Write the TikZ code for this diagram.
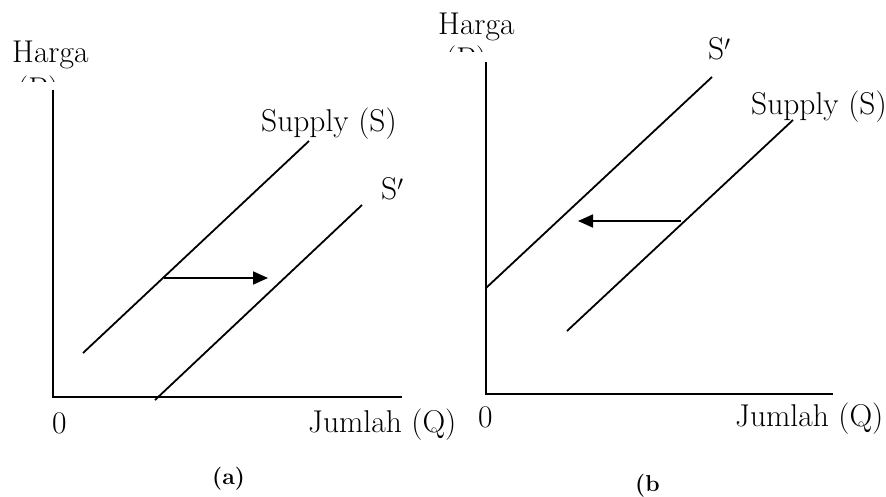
\documentclass[tikz,border=0pt]{standalone}
\usetikzlibrary{arrows.meta}
\begin{document}
\begin{tikzpicture}[x=1pt,y=-1pt,
  axis/.style={line width=2pt},
  curve/.style={line width=1.8pt},
  shift arrow/.style={line width=1.8pt,-{Triangle[length=15pt,width=13pt]}},
  lbl/.style={anchor=base west,inner sep=0pt,font=\fontsize{31.5}{36}\selectfont},
  panellbl/.style={anchor=base west,inner sep=0pt,font=\fontsize{23}{27}\selectfont\bfseries}]
\useasboundingbox (0,0) rectangle (886,497);
% ---------- panel (a) ----------
\coordinate (aO) at (53,397);
\coordinate (aY) at (53,90);
\coordinate (aX) at (402,397);
\draw[axis] (aY) -- (aO) -- (aX);
\coordinate (aS1) at (83,353);
\coordinate (aS2) at (309,141);
\draw[curve] (aS1) -- (aS2);
\coordinate (aT1) at (155,400);
\coordinate (aT2) at (362,205);
\draw[curve] (aT1) -- (aT2);
\coordinate (aA1) at (164,278);
\coordinate (aA2) at (268,278);
\draw[shift arrow] (aA1) -- (aA2);
\node[lbl] (aHarga) at (12,63) {Harga};
\begin{scope}
\clip (0,70) rectangle (120,81.5);
\node[lbl] (aP) at (17,100) {(P)};
\end{scope}
\node[lbl] (aSup) at (261,132) {Supply (S)};
\node[lbl] (aSp) at (381,200) {S$'$};
\node[lbl] (aZero) at (52,433) {0};
\node[lbl] (aQ) at (308,432) {Jumlah (Q)};
\node[panellbl] (aCap) at (212,484) {(a)};
% ---------- panel (b) ----------
\coordinate (bO) at (486,394);
\coordinate (bY) at (486,62);
\coordinate (bX) at (833,394);
\draw[axis] (bY) -- (bO) -- (bX);
\coordinate (bT1) at (486,288);
\coordinate (bT2) at (712,77);
\draw[curve] (bT1) -- (bT2);
\coordinate (bS1) at (567,331);
\coordinate (bS2) at (793,120);
\draw[curve] (bS1) -- (bS2);
\coordinate (bA1) at (681,221);
\coordinate (bA2) at (578,221);
\draw[shift arrow] (bA1) -- (bA2);
\node[lbl] (bHarga) at (438,35) {Harga};
\begin{scope}
\clip (430,40) rectangle (500,51.5);
\node[lbl] (bP) at (445,70) {(P)};
\end{scope}
\node[lbl] (bSp) at (708,60) {S$'$};
\node[lbl] (bSup) at (751,115) {Supply (S)};
\node[lbl] (bZero) at (478,427) {0};
\node[lbl] (bQ) at (735,426) {Jumlah (Q)};
\node[panellbl] (bCap) at (635,491) {(b};
\end{tikzpicture}
\end{document}
